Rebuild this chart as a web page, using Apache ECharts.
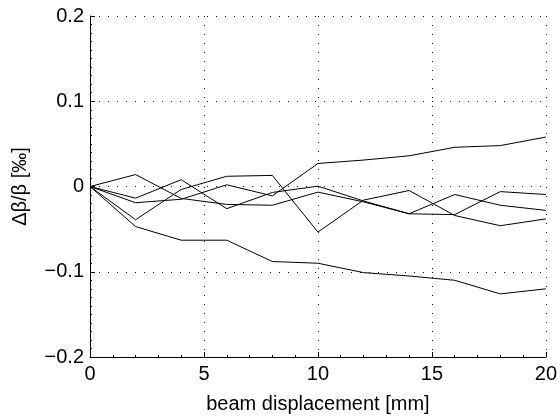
<!DOCTYPE html>
<html>
<head>
<meta charset="utf-8">
<script src="https://cdn.jsdelivr.net/npm/echarts@6/dist/echarts.min.js"></script>
<style>
  html, body { margin: 0; padding: 0; background: #fff; }
  #chart { width: 560px; height: 419px; }
</style>
</head>
<body>
<div id="chart"></div>
<script>
// Beam displacement steps [mm]
const displacement = [0, 2, 4, 6, 8, 10, 12, 14, 16, 18, 20];

// Relative beta-beat for each measured case [per mille]
const caseA = [0, -0.047, -0.063, -0.063, -0.088, -0.090, -0.101, -0.105, -0.110, -0.126, -0.120];
const caseB = [0, -0.019, -0.015, 0.002, -0.011, 0.027, 0.031, 0.036, 0.046, 0.048, 0.058];
const caseC = [0, -0.039, -0.0035, 0.012, 0.013, -0.0535, -0.016, -0.0047, -0.034, -0.046, -0.038];
const caseD = [0, -0.0137, 0.008, -0.026, -0.007, 0.0004, -0.017, -0.032, -0.0094, -0.022, -0.028];
const caseE = [0, 0.014, -0.014, -0.021, -0.022, -0.0066, -0.018, -0.032, -0.033, -0.006, -0.0094];

const xTicks = [0, 5, 10, 15, 20];
const yTicks = [-0.2, -0.1, 0, 0.1, 0.2];

const FONT = '"Liberation Sans", Arial, Helvetica, sans-serif';
const FONT_SIZE = 20;
const allCases = [caseA, caseB, caseC, caseD, caseE];

const gridDots = { show: true, lineStyle: { color: '#000', width: 1, type: [1, 8] } };

const chart = echarts.init(document.getElementById('chart'), null, { renderer: 'canvas' });
chart.setOption({
  animation: false,
  backgroundColor: '#fff',
  grid: { left: 90, right: 14, top: 16, bottom: 62, containLabel: false },
  xAxis: {
    type: 'value',
    min: xTicks[0],
    max: xTicks[xTicks.length - 1],
    interval: 5,
    name: 'beam displacement [mm]',
    nameLocation: 'middle',
    nameGap: 37,
    nameTextStyle: { fontFamily: FONT, fontSize: FONT_SIZE, color: '#000' },
    axisLine: { show: true, onZero: false, lineStyle: { color: '#000', width: 1 } },
    axisTick: { show: true, inside: true, length: 5, lineStyle: { color: '#000' } },
    minorTick: { show: true, splitNumber: 5, length: 2, lineStyle: { color: '#000' } },
    axisLabel: { fontFamily: FONT, fontSize: FONT_SIZE, color: '#000', margin: 7 },
    splitLine: gridDots
  },
  yAxis: {
    type: 'value',
    min: yTicks[0],
    max: yTicks[yTicks.length - 1],
    interval: 0.1,
    name: 'Δβ/β [‰]',
    nameLocation: 'middle',
    nameGap: 60,
    nameRotate: 90,
    nameTextStyle: { fontFamily: FONT, fontSize: FONT_SIZE, color: '#000' },
    axisLine: { show: true, onZero: false, lineStyle: { color: '#000', width: 1 } },
    axisTick: { show: true, inside: true, length: 5, lineStyle: { color: '#000' } },
    minorTick: { show: true, splitNumber: 10, length: 2, lineStyle: { color: '#000' } },
    axisLabel: {
      fontFamily: FONT, fontSize: FONT_SIZE, color: '#000', margin: 6,
      formatter: v => {
        const r = Math.round(v * 10) / 10;
        return r === 0 ? '0' : (r < 0 ? '\u2212' + Math.abs(r).toFixed(1) : r.toFixed(1));
      }
    },
    splitLine: gridDots
  },
  series: allCases.map(vals => ({
    type: 'line',
    data: displacement.map((x, i) => [x, vals[i]]),
    showSymbol: false,
    lineStyle: { color: '#000', width: 1 },
    z: 3
  }))
});
</script>
</body>
</html>
